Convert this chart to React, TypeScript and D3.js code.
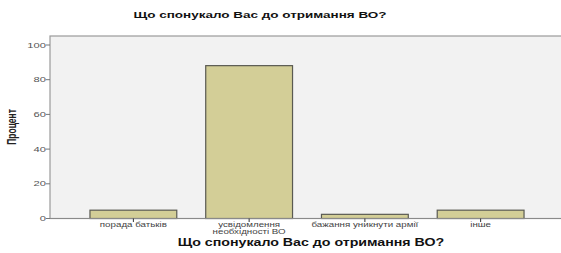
import React from 'react';
import * as d3 from 'd3';

const categories = ['порада батьків', 'усвідомлення\nнеобхідності ВО', 'бажання уникнути армії', 'інше'];
const values = [4.8, 88.1, 2.4, 4.8];
const yTicks = [0, 20, 40, 60, 80, 100];

const W = 561;
const H = 253;
const plot = { left: 50, top: 36, right: 566, bottom: 218.5 };
const SX = 1.42; // the source picture is stretched horizontally
const font = '"Liberation Sans", Arial, sans-serif';

const Txt = ({ x, y, anchor = 'middle', size, bold = false, fill = '#333', sx = SX, children }: any) => (
  <g transform={`translate(${x},${y}) scale(${sx},1)`}>
    <text textAnchor={anchor} fontFamily={font} fontSize={size} fontWeight={bold ? 'bold' : 'normal'} fill={fill}>
      {children}
    </text>
  </g>
);

const App = () => {
  const x = d3.scaleBand<string>()
    .domain(categories)
    .range([75.5, 538.5])
    .paddingInner(0.25)
    .paddingOuter(0.125);

  const y = d3.scaleLinear().domain([0, 100]).range([plot.bottom, 45]);

  return (
    <svg width={W} height={H} style={{ position: 'absolute', left: 0, top: 0, background: '#fff' }}>
      <Txt x={260} y={18} size={9.5} bold fill="#111">Що спонукало Вас до отримання ВО?</Txt>

      {/* plot background */}
      <rect x={plot.left} y={plot.top} width={plot.right - plot.left} height={plot.bottom - plot.top}
        fill="#f2f2f2" stroke="#9a9a9a" strokeWidth={1.2} />

      {/* y axis */}
      {yTicks.map((t) => (
        <g key={t}>
          <line x1={plot.left - 4} x2={plot.left} y1={y(t)} y2={y(t)} stroke="#777" strokeWidth={1} />
          <Txt x={plot.left - 4} y={y(t) + 2.5} anchor="end" size={7} fill="#555" sx={1.6}>{t}</Txt>
        </g>
      ))}
      <text transform={`translate(16,127) rotate(-90) scale(1,${SX})`} textAnchor="middle" fontFamily={font}
        fontWeight="bold" fontSize={8.5} fill="#222">Процент</text>

      {/* bars */}
      {categories.map((c, i) => (
        <rect key={c} x={x(c)} y={y(values[i])} width={x.bandwidth()} height={y(0) - y(values[i])}
          fill="#d3ce97" stroke="#5a5a52" strokeWidth={1.2} />
      ))}

      {/* x axis */}
      <line x1={plot.left} x2={plot.right} y1={plot.bottom} y2={plot.bottom} stroke="#8a8a8a" strokeWidth={1.2} />
      {categories.map((c) => {
        const cx = (x(c) ?? 0) + x.bandwidth() / 2;
        const lines = c.split('\n');
        return (
          <g key={c}>
            <line x1={cx} x2={cx} y1={plot.bottom} y2={plot.bottom + 3.5} stroke="#333" strokeWidth={1} />
            {lines.map((l, j) => (
              <Txt key={j} x={cx} y={227 + j * 7} size={6.3} fill="#444" sx={1.55}>{l}</Txt>
            ))}
          </g>
        );
      })}
      <Txt x={311} y={246} size={10} bold fill="#111">Що спонукало Вас до отримання ВО?</Txt>
    </svg>
  );
};

export default App;
